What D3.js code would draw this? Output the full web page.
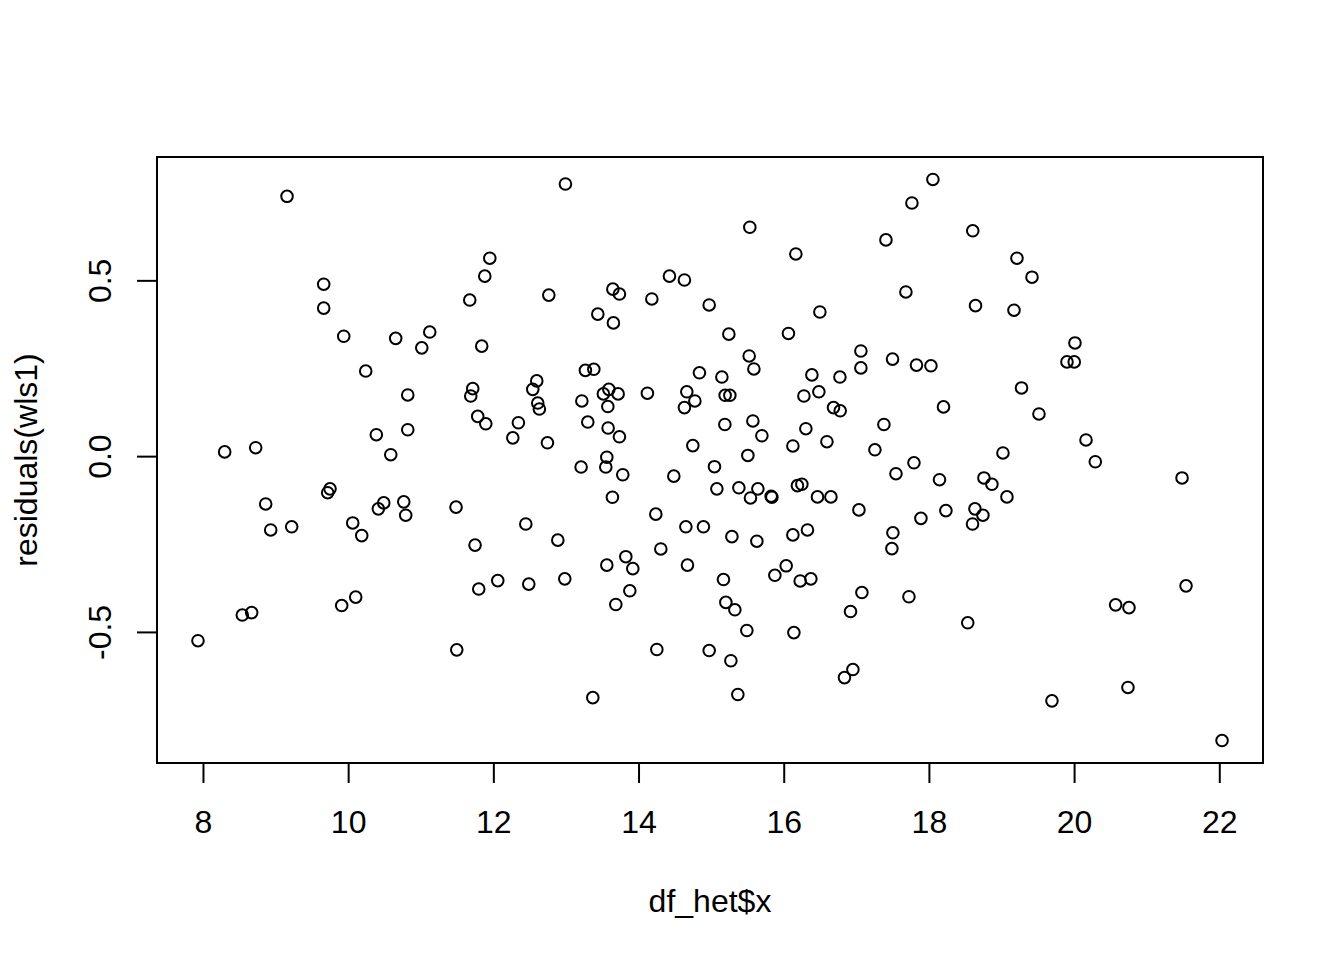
<!DOCTYPE html>
<html>
<head>
<meta charset="utf-8">
<script src="https://cdn.jsdelivr.net/npm/d3@7"></script>
<style>
  html, body { margin: 0; padding: 0; background: #ffffff; }
  svg { display: block; }
  text { font-family: "Liberation Sans", Arial, sans-serif; }
</style>
</head>
<body>
<svg id="chart" width="1344" height="960"></svg>
<script>
// x values (df_het$x)
const xValues = [
  7.931, 8.299, 8.726, 9.158, 8.542, 8.671, 8.864, 8.933, 9.222, 9.663,
  9.663, 9.718, 9.750, 9.939, 9.911, 10.063, 10.104, 10.187, 10.242, 10.388,
  10.416, 10.490, 10.587, 10.655, 10.766, 10.793, 10.821, 10.821, 11.014, 11.124,
  12.993, 11.951, 11.882, 11.675, 12.764, 13.646, 13.737, 14.183, 14.426, 14.632,
  14.973, 13.439, 13.654, 11.840, 13.268, 13.384, 14.839, 11.716, 11.689, 12.598,
  12.543, 12.612, 12.634, 13.219, 13.591, 13.516, 13.719, 13.577, 14.122, 14.665,
  14.776, 14.632, 11.785, 11.896, 12.345, 12.268, 12.745, 13.301, 13.581, 13.737,
  14.748, 13.563, 13.209, 13.549, 13.783, 14.486, 13.640, 11.486, 14.238, 12.447,
  14.652, 14.894, 11.748, 12.888, 14.307, 13.563, 13.825, 13.921, 14.674, 11.799,
  12.061, 12.488, 12.984, 13.880, 13.687, 11.496, 14.252, 14.973, 13.370,
  18.055, 17.766, 15.533, 18.604, 17.408, 16.167, 17.683, 18.642, 16.498, 15.244,
  16.065, 17.063, 17.063, 17.499, 17.829, 18.028, 15.524, 15.589, 15.148, 16.388,
  16.774, 15.193, 15.258, 16.278, 16.484, 16.686, 16.778, 18.201, 15.189, 15.575,
  15.699, 16.305, 17.380, 16.126, 16.595, 17.256, 15.506, 15.046, 17.794, 17.546,
  18.146, 15.079, 15.382, 15.644, 15.542, 15.827, 15.837, 16.189, 16.250, 16.465,
  16.650, 17.036, 17.890, 18.234, 15.286, 15.630, 16.126, 16.327, 17.504, 17.490,
  15.170, 16.034, 15.878, 16.227, 16.374, 15.203, 15.327, 15.492, 16.140, 17.077,
  16.920, 17.725, 18.535, 15.272, 16.953, 16.837, 15.368,
  19.213, 19.420, 19.172, 20.012, 19.902, 20.002, 19.276, 19.516, 20.164, 19.020,
  20.292, 21.487, 18.758, 18.868, 19.075, 18.634, 18.744, 18.601, 21.542, 20.572,
  20.756, 20.742, 19.695, 22.038
];

// residuals(wls1)
const residValues = [
  -0.525, 0.012, 0.024, 0.739, -0.452, -0.445, -0.136, -0.210, -0.201, 0.489,
  0.421, -0.104, -0.093, 0.341, -0.425, -0.190, -0.401, -0.226, 0.242, 0.061,
  -0.150, -0.133, 0.004, 0.335, -0.130, -0.168, 0.174, 0.075, 0.308, 0.353,
  0.774, 0.563, 0.512, 0.444, 0.458, 0.475, 0.461, 0.447, 0.512, 0.501,
  0.430, 0.404, 0.379, 0.313, 0.244, 0.247, 0.237, 0.192, 0.171, 0.214,
  0.190, 0.151, 0.134, 0.157, 0.190, 0.177, 0.177, 0.141, 0.179, 0.183,
  0.157, 0.138, 0.113, 0.092, 0.095, 0.052, 0.038, 0.097, 0.080, 0.055,
  0.030, -0.003, -0.031, -0.031, -0.053, -0.057, -0.117, -0.145, -0.165, -0.193,
  -0.201, -0.201, -0.253, -0.239, -0.264, -0.310, -0.286, -0.320, -0.310, -0.378,
  -0.354, -0.364, -0.349, -0.383, -0.422, -0.551, -0.550, -0.553, -0.687,
  0.787, 0.720, 0.651, 0.641, 0.615, 0.575, 0.467, 0.428, 0.410, 0.347,
  0.349, 0.299, 0.251, 0.276, 0.259, 0.257, 0.285, 0.248, 0.225, 0.231,
  0.225, 0.173, 0.173, 0.171, 0.183, 0.138, 0.129, 0.140, 0.090, 0.100,
  0.058, 0.078, 0.090, 0.029, 0.041, 0.018, 0.002, -0.030, -0.019, -0.050,
  -0.067, -0.093, -0.090, -0.093, -0.119, -0.114, -0.117, -0.084, -0.080, -0.116,
  -0.116, -0.153, -0.177, -0.155, -0.229, -0.242, -0.224, -0.210, -0.218, -0.263,
  -0.351, -0.312, -0.339, -0.355, -0.349, -0.416, -0.437, -0.496, -0.502, -0.388,
  -0.442, -0.400, -0.474, -0.582, -0.607, -0.630, -0.678,
  0.563, 0.509, 0.415, 0.322, 0.268, 0.268, 0.194, 0.120, 0.046, 0.009,
  -0.016, -0.062, -0.062, -0.080, -0.116, -0.150, -0.168, -0.193, -0.369, -0.423,
  -0.431, -0.658, -0.696, -0.809
];

const xTickValues = [8, 10, 12, 14, 16, 18, 20, 22];
const yTickValues = [-0.5, 0.0, 0.5];
const xTitle = "df_het$x";
const yTitle = "residuals(wls1)";

(function () {
  const points = xValues.map((v, i) => ({ x: v, y: residValues[i] }));

  const svg = d3.select("#chart");
  const pLeft = 157, pRight = 1263, pTop = 157, pBottom = 763;
  const fontSize = 32;
  const fontFam = '"Liberation Sans", Arial, sans-serif';

  function padded(ext) {
    const r = ext[1] - ext[0];
    return [ext[0] - 0.04 * r, ext[1] + 0.04 * r];
  }

  const x = d3.scaleLinear().domain(padded(d3.extent(xValues))).range([pLeft, pRight]);
  const y = d3.scaleLinear().domain(padded(d3.extent(residValues))).range([pBottom, pTop]);

  svg.append("rect").attr("width", 1344).attr("height", 960).attr("fill", "#ffffff");

  // points
  svg.append("g")
    .selectAll("circle")
    .data(points)
    .join("circle")
    .attr("cx", d => x(d.x))
    .attr("cy", d => y(d.y))
    .attr("r", 5.8)
    .attr("fill", "none")
    .attr("stroke", "#000000")
    .attr("stroke-width", 2);

  // box
  svg.append("rect")
    .attr("x", pLeft).attr("y", pTop)
    .attr("width", pRight - pLeft).attr("height", pBottom - pTop)
    .attr("fill", "none").attr("stroke", "#000").attr("stroke-width", 2);

  // x axis
  const xAxis = d3.axisBottom(x)
    .tickValues(xTickValues)
    .tickFormat(d => String(d))
    .tickSize(20)
    .tickSizeOuter(0)
    .tickPadding(27);
  const gx = svg.append("g").attr("transform", `translate(0,${pBottom})`).call(xAxis);
  gx.select(".domain").remove();
  gx.append("line")
    .attr("x1", x(xTickValues[0])).attr("x2", x(xTickValues[xTickValues.length - 1]))
    .attr("y1", 0).attr("y2", 0)
    .attr("stroke", "#000").attr("stroke-width", 2);
  gx.selectAll(".tick line").attr("stroke", "#000").attr("stroke-width", 2);
  gx.selectAll(".tick text")
    .attr("fill", "#000")
    .style("font-size", fontSize + "px")
    .style("font-family", fontFam);

  // y axis
  const yAxis = d3.axisLeft(y)
    .tickValues(yTickValues)
    .tickFormat(d => d.toFixed(1))
    .tickSize(20)
    .tickSizeOuter(0);
  const gy = svg.append("g").attr("transform", `translate(${pLeft},0)`).call(yAxis);
  gy.select(".domain").remove();
  gy.append("line")
    .attr("x1", 0).attr("x2", 0)
    .attr("y1", y(yTickValues[0])).attr("y2", y(yTickValues[yTickValues.length - 1]))
    .attr("stroke", "#000").attr("stroke-width", 2);
  gy.selectAll(".tick line").attr("stroke", "#000").attr("stroke-width", 2);
  gy.selectAll(".tick text")
    .attr("x", null).attr("y", null).attr("dy", null)
    .attr("transform", "translate(-46,0) rotate(-90)")
    .attr("text-anchor", "middle")
    .attr("fill", "#000")
    .style("font-size", fontSize + "px")
    .style("font-family", fontFam);

  // titles
  svg.append("text")
    .attr("x", (pLeft + pRight) / 2).attr("y", 912)
    .attr("text-anchor", "middle")
    .style("font-size", fontSize + "px")
    .style("font-family", fontFam)
    .attr("fill", "#000")
    .text(xTitle);

  svg.append("text")
    .attr("transform", `translate(37,${(pTop + pBottom) / 2}) rotate(-90)`)
    .attr("text-anchor", "middle")
    .style("font-size", fontSize + "px")
    .style("font-family", fontFam)
    .attr("fill", "#000")
    .text(yTitle);
})();
</script>
</body>
</html>
